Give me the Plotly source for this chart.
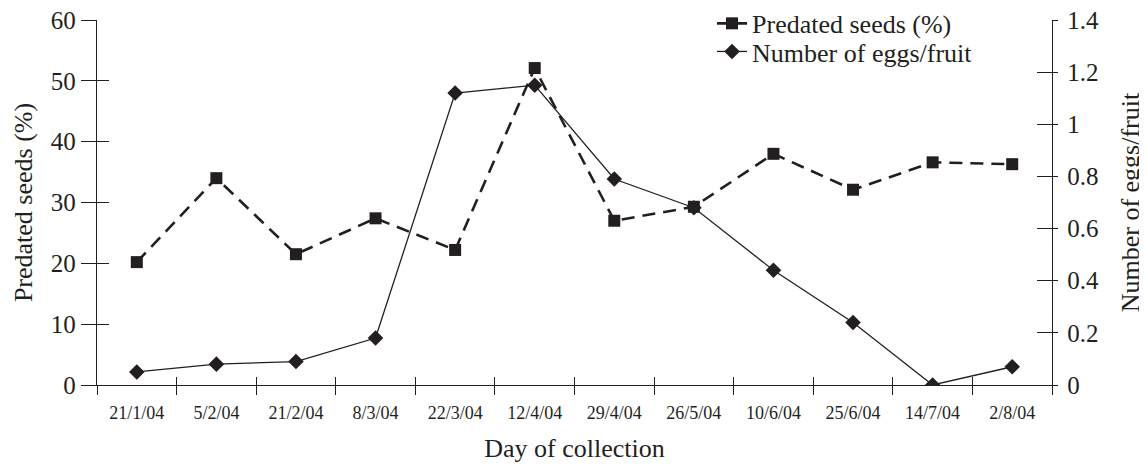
import plotly.graph_objects as go

dates = ["21/1/04", "5/2/04", "21/2/04", "8/3/04", "22/3/04", "12/4/04",
         "29/4/04", "26/5/04", "10/6/04", "25/6/04", "14/7/04", "2/8/04"]
predated_seeds = [20.2, 34.0, 21.5, 27.4, 22.2, 52.1, 27.0, 29.3, 38.0, 32.1, 36.6, 36.3]
eggs_per_fruit = [0.05, 0.08, 0.09, 0.18, 1.12, 1.15, 0.79, 0.68, 0.44, 0.24, 0.0, 0.07]
left_ticks = [0, 10, 20, 30, 40, 50, 60]
right_ticks = [0, 0.2, 0.4, 0.6, 0.8, 1.0, 1.2, 1.4]
right_ticktext = ["0", "0.2", "0.4", "0.6", "0.8", "1", "1.2", "1.4"]

INK = "#231f20"
FONT = "Liberation Serif, Times New Roman, serif"

fig = go.Figure()

fig.add_trace(go.Scatter(
    x=dates, y=predated_seeds, name="Predated seeds (%)",
    mode="lines+markers", xaxis="x", yaxis="y", legend="legend",
    line=dict(color=INK, width=2.6, dash="13px,8px"),
    marker=dict(symbol="square", size=12, color=INK),
))
fig.add_trace(go.Scatter(
    x=dates, y=eggs_per_fruit, name="Number of eggs/fruit",
    mode="lines+markers", xaxis="x", yaxis="y2", legend="legend2",
    line=dict(color=INK, width=1.3),
    marker=dict(symbol="diamond", size=12, color=INK),
))
# helper invisible traces so the inner-tick overlay axes are drawn
empty = [None] * len(dates)
fig.add_trace(go.Scatter(x=dates, y=empty, xaxis="x2", yaxis="y", showlegend=False,
                         hoverinfo="skip", mode="lines"))
fig.add_trace(go.Scatter(x=dates, y=empty, xaxis="x", yaxis="y3", showlegend=False,
                         hoverinfo="skip", mode="lines"))
fig.add_trace(go.Scatter(x=dates, y=empty, xaxis="x", yaxis="y4", showlegend=False,
                         hoverinfo="skip", mode="lines"))

cat_axis = dict(type="category", categoryorder="array", categoryarray=dates,
                range=[-0.5, len(dates) - 0.5], tickson="boundaries",
                showgrid=False, zeroline=False, tickcolor=INK, tickwidth=1.3,
                automargin=False)

legend_common = dict(xanchor="left", yanchor="top", bgcolor="rgba(0,0,0,0)",
                     font=dict(size=26, family=FONT, color=INK), itemwidth=30)

# page body adds an 8px margin, so the figure is 8px smaller than the window
fig.update_layout(
    width=1139, height=462,
    margin=dict(l=89, r=95, t=12, b=85, autoexpand=False),
    paper_bgcolor="white", plot_bgcolor="white",
    font=dict(family=FONT, color=INK, size=26),
    showlegend=True,
    legend=dict(x=0.644, y=1.055, **legend_common),
    legend2=dict(x=0.644, y=0.978, **legend_common),
    xaxis=dict(**cat_axis, showline=True, linecolor=INK, linewidth=1.3,
               ticks="outside", ticklen=9, ticklabelstandoff=11,
               ticklabeloverflow="allow",
               tickfont=dict(size=18, family=FONT, color=INK),
               title=dict(text="Day of collection", standoff=17,
                          font=dict(size=26, family=FONT, color=INK)),
               anchor="y"),
    xaxis2=dict(**cat_axis, overlaying="x", anchor="y", side="bottom",
                showline=False, ticks="inside", ticklen=8, showticklabels=False),
    yaxis=dict(range=[0, 60], tickvals=left_ticks, showgrid=False, zeroline=False,
               showline=True, linecolor=INK, linewidth=1.3, automargin=False,
               ticks="outside", ticklen=15, tickcolor=INK, tickwidth=1.3,
               ticklabelstandoff=0, ticklabeloverflow="allow",
               tickfont=dict(size=25, family=FONT, color=INK),
               title=dict(text="Predated seeds (%)", standoff=10,
                          font=dict(size=26, family=FONT, color=INK)),
               anchor="x"),
    yaxis2=dict(range=[0, 1.4], tickvals=right_ticks, ticktext=right_ticktext,
                overlaying="y", side="right", anchor="x", automargin=False,
                showgrid=False, zeroline=False,
                showline=True, linecolor=INK, linewidth=1.3,
                ticks="outside", ticklen=5, tickcolor=INK, tickwidth=1.3,
                ticklabelstandoff=4, ticklabeloverflow="allow",
                tickfont=dict(size=25, family=FONT, color=INK),
                title=dict(text="Number of eggs/fruit", standoff=22,
                           font=dict(size=26, family=FONT, color=INK))),
    yaxis3=dict(range=[0, 60], tickvals=left_ticks, overlaying="y", side="left",
                anchor="x", showgrid=False, zeroline=False, showline=False,
                automargin=False,
                ticks="inside", ticklen=12, tickcolor=INK, tickwidth=1.3,
                showticklabels=False),
    yaxis4=dict(range=[0, 1.4], tickvals=right_ticks, overlaying="y", side="right",
                anchor="x", showgrid=False, zeroline=False, showline=False,
                automargin=False,
                ticks="inside", ticklen=15, tickcolor=INK, tickwidth=1.3,
                showticklabels=False),
)

fig.write_html("out.html")
